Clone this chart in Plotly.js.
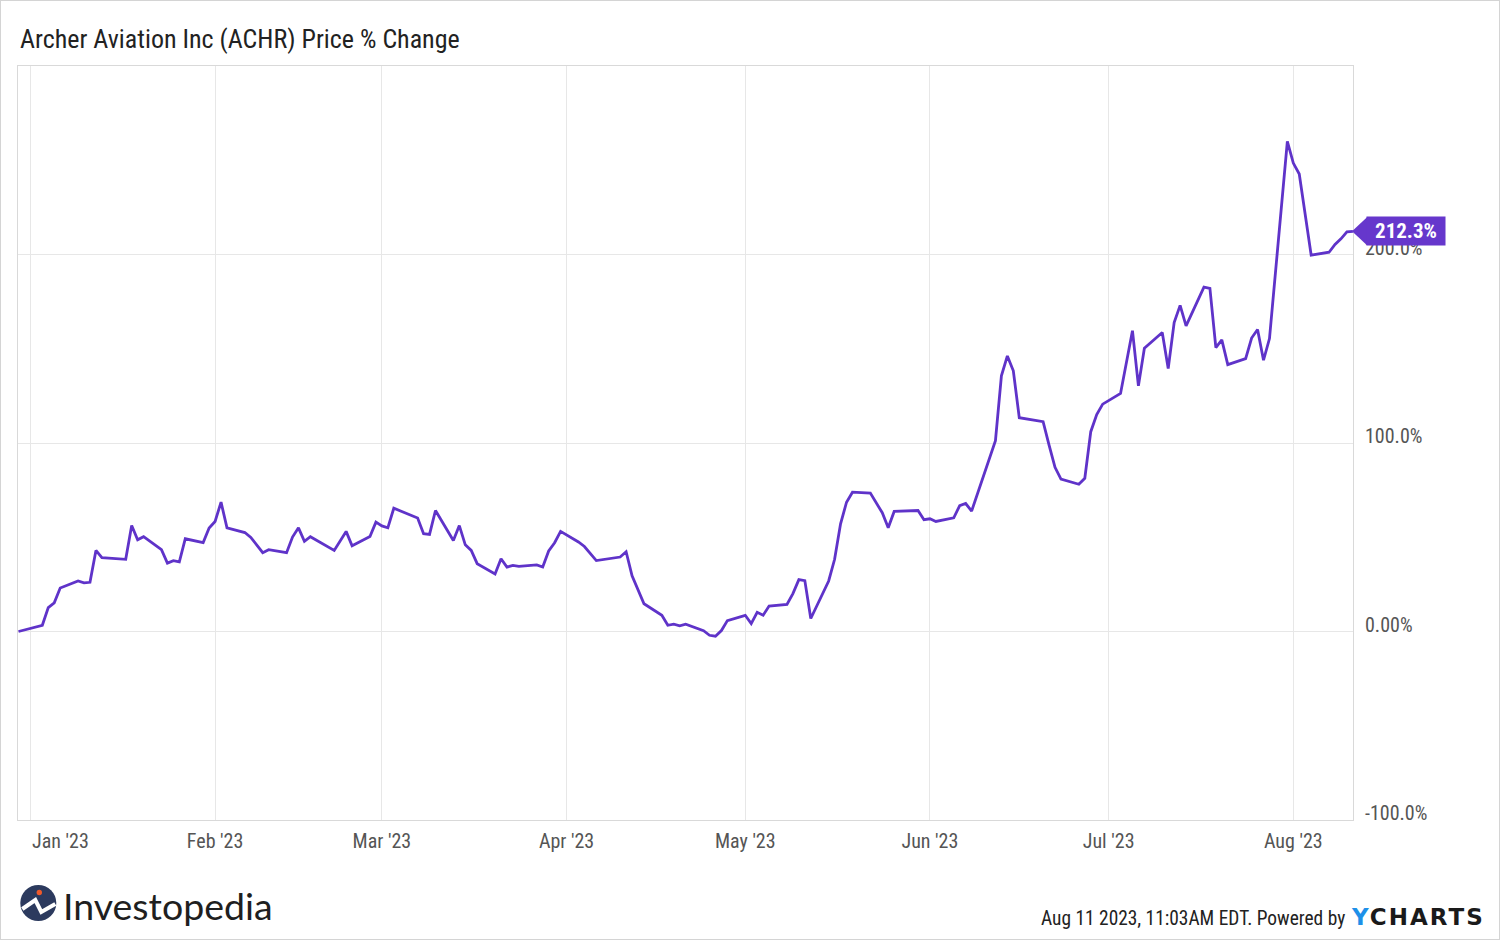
<!DOCTYPE html>
<html>
<head>
<meta charset="utf-8">
<script src="https://cdn.plot.ly/plotly-3.0.1.min.js"></script>
<style>
  html, body { margin: 0; padding: 0; background: #fff; }
  #chart { width: 1500px; height: 940px; }
  #frame { position: fixed; left: 0; top: 0; width: 1500px; height: 940px; box-sizing: border-box; border: 1px solid #d4d4d4; pointer-events: none; }
</style>
</head>
<body>
<div id="chart"></div>
<div id="frame"></div>
<script>
// ---- Data ----
const datesJan = ['2022-12-30','2023-01-03','2023-01-04','2023-01-05','2023-01-06','2023-01-09','2023-01-10','2023-01-11','2023-01-12','2023-01-13','2023-01-17','2023-01-18','2023-01-19','2023-01-20','2023-01-23','2023-01-24','2023-01-25','2023-01-26','2023-01-27','2023-01-30','2023-01-31'];
const pctJan   = [0, 3.3, 12.7, 15.2, 23.1, 26.8, 25.8, 26.1, 43.0, 39.2, 38.3, 56.2, 48.7, 50.3, 43.4, 36.3, 37.6, 36.9, 49.2, 47.2, 54.9];

const datesFeb = ['2023-02-01','2023-02-02','2023-02-03','2023-02-06','2023-02-07','2023-02-09','2023-02-10','2023-02-13','2023-02-14','2023-02-15','2023-02-16','2023-02-17','2023-02-21','2023-02-23','2023-02-24','2023-02-27','2023-02-28'];
const pctFeb   = [58.4, 68.6, 55.0, 52.5, 49.9, 41.8, 43.4, 41.8, 50.1, 55.0, 47.8, 50.3, 43.0, 53.1, 45.5, 50.4, 58.0];

const datesMar = ['2023-03-01','2023-03-02','2023-03-03','2023-03-07','2023-03-08','2023-03-09','2023-03-10','2023-03-13','2023-03-14','2023-03-15','2023-03-16','2023-03-17','2023-03-20','2023-03-21','2023-03-22','2023-03-23','2023-03-24','2023-03-27','2023-03-28','2023-03-29','2023-03-30','2023-03-31'];
const pctMar   = [56.0, 55.0, 65.4, 60.2, 51.9, 51.5, 64.2, 48.3, 56.2, 46.0, 43.0, 36.0, 30.5, 38.6, 34.2, 35.1, 34.6, 35.3, 34.2, 42.7, 47.1, 53.1];

const datesApr = ['2023-04-03','2023-04-04','2023-04-06','2023-04-10','2023-04-11','2023-04-12','2023-04-14','2023-04-17','2023-04-18','2023-04-19','2023-04-20','2023-04-21','2023-04-24','2023-04-25','2023-04-26','2023-04-27','2023-04-28'];
const pctApr   = [47.5, 45.1, 37.6, 39.5, 42.3, 29.5, 14.7, 8.6, 3.3, 3.9, 3.0, 3.9, 0.4, -2.0, -2.5, 0.5, 5.8];

const datesMay = ['2023-05-01','2023-05-02','2023-05-03','2023-05-04','2023-05-05','2023-05-08','2023-05-09','2023-05-10','2023-05-11','2023-05-12','2023-05-15','2023-05-16','2023-05-17','2023-05-18','2023-05-19','2023-05-22','2023-05-24','2023-05-25','2023-05-26','2023-05-30','2023-05-31'];
const pctMay   = [8.6, 4.2, 10.2, 8.6, 13.5, 14.4, 20.1, 27.5, 27.0, 6.9, 26.8, 38.3, 57.1, 68.6, 73.9, 73.4, 63.0, 55.0, 63.7, 64.2, 59.3];

const datesJun = ['2023-06-01','2023-06-02','2023-06-05','2023-06-06','2023-06-07','2023-06-08','2023-06-12','2023-06-13','2023-06-14','2023-06-15','2023-06-16','2023-06-20','2023-06-21','2023-06-22','2023-06-23','2023-06-26','2023-06-27','2023-06-28','2023-06-29','2023-06-30'];
const pctJun   = [59.8, 58.4, 60.3, 66.8, 67.9, 63.9, 101.2, 135.6, 146.2, 138.3, 113.4, 111.3, 98.9, 87.1, 80.8, 78.1, 81.3, 106.0, 115.1, 120.6];

const datesJul = ['2023-07-03','2023-07-05','2023-07-06','2023-07-07','2023-07-10','2023-07-11','2023-07-12','2023-07-13','2023-07-14','2023-07-17','2023-07-18','2023-07-19','2023-07-20','2023-07-21','2023-07-24','2023-07-25','2023-07-26','2023-07-27','2023-07-28','2023-07-31'];
const pctJul   = [126.3, 159.6, 130.3, 150.3, 158.6, 139.5, 163.9, 173.0, 162.1, 182.7, 182.0, 150.6, 154.7, 141.6, 144.8, 155.7, 160.2, 143.9, 155.4, 260.0];

const datesAug = ['2023-08-01','2023-08-02','2023-08-04','2023-08-07','2023-08-08','2023-08-09','2023-08-10','2023-08-11'];
const pctAug   = [248.5, 242.7, 199.6, 201.2, 205.3, 208.3, 212.0, 212.3];

const monthTicks  = ['2023-01-01','2023-02-01','2023-03-01','2023-04-01','2023-05-01','2023-06-01','2023-07-01','2023-08-01'];
const monthLabels = ["Jan '23","Feb '23","Mar '23","Apr '23","May '23","Jun '23","Jul '23","Aug '23"];
const yTickVals   = [-100, 0, 100, 200, 300];
const yTickLabels = ['-100.0%', '0.00%', '100.0%', '200.0%', ''];

const titleText = 'Archer Aviation Inc (ACHR) Price % Change';
const footerText = 'Aug 11 2023, 11:03AM EDT. Powered by';

// ---- Build ----
const dates = [].concat(datesJan, datesFeb, datesMar, datesApr, datesMay, datesJun, datesJul, datesAug);
const pct   = [].concat(pctJan, pctFeb, pctMar, pctApr, pctMay, pctJun, pctJul, pctAug);
const lastDate = dates[dates.length - 1];
const lastVal  = pct[pct.length - 1];

const W = 1500, H = 940;
const M = {l: 18, r: 147, t: 66, b: 120};
const plotW = W - M.l - M.r, plotH = H - M.t - M.b;
const px = v => (v - M.l) / plotW;          // page px -> paper x
const py = v => (H - M.b - v) / plotH;      // page px -> paper y

const condensed = 'Liberation Sans Narrow, Roboto Condensed, DejaVu Sans Condensed, Roboto, sans-serif';
const purple = '#5f33c9';
const tagColor = '#6637cc';
const yRange = [-100, 300];
const lastPaperY = (lastVal - yRange[0]) / (yRange[1] - yRange[0]);

const trace = {
  x: dates, y: pct, type: 'scatter', mode: 'lines',
  line: {color: purple, width: 2.8},
  hoverinfo: 'x+y'
};

const layout = {
  width: W, height: H,
  margin: M,
  paper_bgcolor: '#ffffff', plot_bgcolor: '#ffffff',
  showlegend: false,
  title: {
    text: titleText,
    x: 20 / W, xref: 'container', xanchor: 'left',
    y: 1 - 39 / H, yref: 'container', yanchor: 'middle',
    font: {family: condensed, size: 26, color: '#222'}
  },
  xaxis: {
    type: 'date',
    range: ['2022-12-29 22:00', '2023-08-11 00:30'],
    tickmode: 'array', tickvals: monthTicks,
    ticktext: monthLabels.map((t, i) => i === 0 ? '' : t),
    showgrid: true, gridcolor: '#e7e7e7', gridwidth: 1,
    showline: true, mirror: true, linecolor: '#d9d9d9', linewidth: 1,
    zeroline: false, ticks: '', ticklen: 0, ticklabelstandoff: 3,
    tickfont: {family: condensed, size: 20, color: '#555'}
  },
  yaxis: {
    range: yRange,
    tickmode: 'array', tickvals: yTickVals, ticktext: yTickLabels,
    side: 'right',
    showgrid: true, gridcolor: '#e7e7e7', gridwidth: 1,
    showline: true, mirror: true, linecolor: '#d9d9d9', linewidth: 1,
    zeroline: false, ticks: '', ticklen: 0,
    ticklabelstandoff: 7, ticklabelshift: -7,
    tickfont: {family: condensed, size: 20, color: '#555'}
  },
  shapes: [
    // pointer of last-value tag
    {type: 'path', xref: 'paper', yref: 'paper', layer: 'above',
     path: `M ${px(1352)},${lastPaperY} L ${px(1367)},${lastPaperY + 14/plotH} L ${px(1367)},${lastPaperY - 14/plotH} Z`,
     fillcolor: tagColor, line: {width: 0}},
    // Investopedia logo circle
    {type: 'circle', xref: 'paper', yref: 'paper', xsizemode: 'pixel', ysizemode: 'pixel',
     xanchor: px(38.3), yanchor: py(903), x0: -18, x1: 18, y0: -18, y1: 18,
     fillcolor: '#2c3a5e', line: {width: 0}},
    {type: 'path', xref: 'paper', yref: 'paper', xsizemode: 'pixel', ysizemode: 'pixel',
     xanchor: px(38.3), yanchor: py(903),
     path: 'M -16,-6 L -3,3 L 3,-9 L 17,-1',
     line: {color: '#ffffff', width: 4}},
    {type: 'circle', xref: 'paper', yref: 'paper', xsizemode: 'pixel', ysizemode: 'pixel',
     xanchor: px(39.3), yanchor: py(892.5), x0: -2.7, x1: 2.7, y0: -2.7, y1: 2.7,
     fillcolor: '#f0592a', line: {width: 0}}
  ],
  annotations: [
    // first month label, left-aligned at its gridline
    {x: monthTicks[0], xref: 'x', y: py(841), yref: 'paper', xanchor: 'left', yanchor: 'middle',
     text: monthLabels[0], showarrow: false, font: {family: condensed, size: 20, color: '#555'}},
    // last value tag
    {x: lastDate, xref: 'x', y: lastVal, yref: 'y', xanchor: 'left', yanchor: 'middle',
     xshift: 13, text: '<b>' + lastVal.toFixed(1) + '%</b>', showarrow: false,
     bgcolor: tagColor, borderpad: 0, width: 78, height: 28, align: 'center',
     font: {family: condensed, size: 21, color: '#ffffff'}},
    // Investopedia wordmark
    {x: px(61), xref: 'paper', y: py(905), yref: 'paper', xanchor: 'left', yanchor: 'middle',
     text: 'Investopedia', showarrow: false, font: {family: 'Lato, Inter, sans-serif', size: 37.5, color: '#1f1f1f'}},
    // footer
    {x: px(1347), xref: 'paper', y: py(918), yref: 'paper', xanchor: 'right', yanchor: 'middle',
     text: footerText, showarrow: false, font: {family: condensed, size: 19.4, color: '#222'}},
    {x: px(1349), xref: 'paper', y: py(917), yref: 'paper', xanchor: 'left', yanchor: 'middle',
     text: '<b><span style="color:#1e90e8;letter-spacing:2px">Y</span><span style="letter-spacing:2px">CHARTS</span></b>', showarrow: false,
     font: {family: 'DejaVu Sans, Inter, sans-serif', size: 23, color: '#1a1a1a'}}
  ]
};

Plotly.newPlot('chart', [trace], layout, {displayModeBar: false, staticPlot: true});
</script>
</body>
</html>
